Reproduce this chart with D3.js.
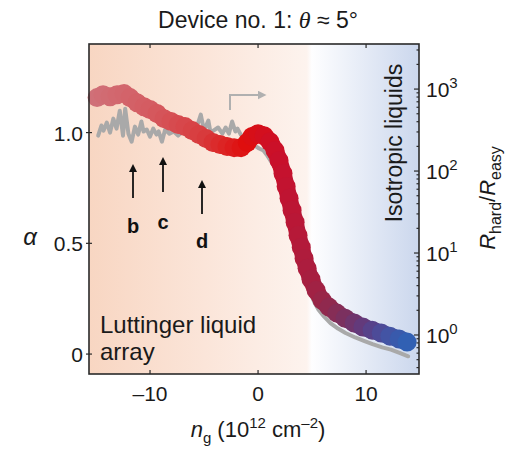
<!DOCTYPE html>
<html><head><meta charset="utf-8">
<script src="https://cdn.jsdelivr.net/npm/d3@7"></script>
<style>body{margin:0;background:#fff;} text{font-family:"Liberation Sans",Arial,sans-serif;}</style>
</head><body>
<svg id="c" width="507" height="449"></svg>
<script>
// ---- data ----
const xTicks = [-10, 0, 10];
const yTicks = [0, 0.5, 1.0];
const yTickLabels = ["0", "0.5", "1.0"];
const rTicks = [1, 10, 100, 1000];
const rTickExps = ["0", "1", "2", "3"];
// Red series: alpha vs n_g
const redN = [-14.9,-14.35,-13.7,-13.06,-12.4,-11.85,-11.2,-10.56,-10.0,-9.35,-8.7,-8.06,-7.4,-6.76,-6.1,-5.46,-4.8,-4.17,-3.52,-2.87,-2.22,-1.57,-1.0,-0.56,0,0.56,1.1,1.57,1.94,2.31,2.6,2.87,3.15,3.43,3.7,4.0,4.26,4.54,4.9,5.37,5.93,6.57,7.3,8.06,8.9,9.7,10.56,11.4,12.2,13.06,13.8];
const redA = [1.158,1.171,1.162,1.171,1.176,1.158,1.135,1.117,1.104,1.086,1.063,1.05,1.036,1.027,1.009,0.991,0.973,0.955,0.946,0.937,0.932,0.932,0.955,0.982,0.995,0.986,0.959,0.919,0.874,0.815,0.757,0.703,0.649,0.595,0.536,0.482,0.432,0.387,0.338,0.288,0.243,0.212,0.185,0.162,0.14,0.122,0.108,0.095,0.081,0.068,0.054];
// Gray series
const grayN = [-14.8,-14.5,-14.3,-14.0,-13.7,-13.4,-13.1,-12.8,-12.5,-12.3,-12.0,-11.7,-11.4,-11.1,-10.8,-10.6,-10.3,-10.0,-9.7,-9.4,-9.2,-8.9,-8.6,-8.2,-7.8,-7.4,-7.0,-6.7,-6.3,-5.9,-5.6,-5.3,-5.0,-4.6,-4.4,-3.7,-3.3,-3.0,-2.7,-2.4,-2.1,-1.9,-1.6,-1.3,-1.0,-0.6,-0.3,0.1,0.5,0.8,1.2,1.6,1.9,2.3,2.6,2.9,3.1,3.4,3.7,4.0,4.3,4.5,4.8,5.2,5.6,6.1,6.7,7.4,8.1,9.0,9.8,10.6,11.5,12.3,13.1,13.9];
const grayA = [0.986,1.032,1.009,1.045,1.0,1.063,1.018,1.099,0.986,1.108,0.995,0.959,1.027,0.991,1.05,1.005,1.014,0.982,1.018,0.991,1.005,0.959,1.014,0.995,1.005,0.986,1.005,0.991,1.014,1.0,1.036,1.081,1.009,1.054,1.0,1.023,0.995,1.023,0.995,1.05,1.005,1.018,0.991,0.982,0.959,0.946,0.941,0.928,0.919,0.9,0.87,0.84,0.8,0.74,0.68,0.62,0.58,0.52,0.46,0.41,0.36,0.32,0.28,0.235,0.2,0.17,0.14,0.115,0.095,0.075,0.06,0.045,0.03,0.02,0.005,-0.01];
const colorStopsN = [-15,-10,-5,-1,2,4,6,8,10,12,14];
const colorStopsC = ["#d07078","#d45c62","#d83c3e","#df0e0e","#c8102c","#b31a3a","#982648","#7c305e","#5e3c80","#4552a2","#2f62b5"];

const svg = d3.select("#c");
const L = 89, R = 419, T = 44, B = 374;
const x = d3.scaleLinear().domain([-15.65, 14.9]).range([L, R]);
const y = d3.scaleLinear().domain([-0.09, 1.4]).range([B, T]);
const yr = d3.scaleLog().domain([Math.pow(10,-0.476), Math.pow(10,3.55)]).range([B, T]);
const col = d3.scaleLinear().domain(colorStopsN).range(colorStopsC);

const defs = svg.append("defs");
const bg = defs.append("linearGradient").attr("id","bg").attr("x1","0%").attr("x2","100%");
[["0%","#f8d6c2"],["35%","#fbe5d9"],["66%","#fdf3ee"],["67.5%","#fefeff"],["100%","#cbd7ed"]].forEach(s=>bg.append("stop").attr("offset",s[0]).attr("stop-color",s[1]));
const lg = defs.append("linearGradient").attr("id","lg").attr("gradientUnits","userSpaceOnUse")
  .attr("x1",x(-15)).attr("x2",x(14)).attr("y1",0).attr("y2",0);
colorStopsN.forEach((n,i)=>lg.append("stop").attr("offset",(n+15)/29).attr("stop-color",colorStopsC[i]));

svg.append("rect").attr("x",L).attr("y",T).attr("width",R-L).attr("height",B-T).attr("fill","url(#bg)");

// gray series
const gpts = grayN.map((n,i)=>[x(n),y(grayA[i])]);
svg.append("path").attr("d",d3.line()(gpts)).attr("fill","none").attr("stroke","#a9a9a9").attr("stroke-width",4).attr("stroke-linejoin","round").attr("stroke-linecap","round");

// red series
const rpts = redN.map((n,i)=>[x(n),y(redA[i])]);
svg.append("path").attr("d",d3.line().curve(d3.curveCatmullRom)(rpts)).attr("fill","none").attr("stroke","url(#lg)").attr("stroke-width",17).attr("stroke-linejoin","round").attr("stroke-linecap","round");
svg.append("g").selectAll("circle").data(redN).join("circle")
  .attr("cx",d=>x(d)).attr("cy",(d,i)=>y(redA[i])).attr("r",9.5).attr("fill",d=>col(d));

// frame
svg.append("rect").attr("x",L).attr("y",T).attr("width",R-L).attr("height",B-T).attr("fill","none").attr("stroke","#2a2a2a").attr("stroke-width",1.6);

// ticks
const tk = svg.append("g").attr("stroke","#2a2a2a").attr("stroke-width",1.2);
xTicks.forEach(v=>{ tk.append("line").attr("x1",x(v)).attr("x2",x(v)).attr("y1",B).attr("y2",B-4);
  tk.append("line").attr("x1",x(v)).attr("x2",x(v)).attr("y1",T).attr("y2",T+4); });
yTicks.forEach(v=>{ tk.append("line").attr("x1",L-3).attr("x2",L+3).attr("y1",y(v)).attr("y2",y(v)); });
const minor = [];
for (let e=-1;e<=3;e++) for (let m=1;m<10;m++){ const v=m*Math.pow(10,e); if(v>=yr.domain()[0]&&v<=yr.domain()[1]) minor.push([v,m===1]); }
minor.forEach(([v,maj])=>tk.append("line").attr("x1",R).attr("x2",R-(maj?5:2.5)).attr("y1",yr(v)).attr("y2",yr(v)));

// tick labels
const fs = 21;
svg.append("g").selectAll("text").data(xTicks).join("text")
  .attr("x",d=>x(d)).attr("y",B+27).attr("text-anchor","middle").attr("font-size",fs).attr("fill","#1a1a1a")
  .text(d=>d<0?"\u2013"+Math.abs(d):d);
svg.append("g").selectAll("text").data(yTicks).join("text")
  .attr("x",L-6).attr("y",d=>y(d)+8).attr("text-anchor","end").attr("font-size",fs).attr("fill","#1a1a1a")
  .text((d,i)=>yTickLabels[i]);
const rl = svg.append("g").selectAll("text").data(rTicks).join("text")
  .attr("x",R+7).attr("y",d=>yr(d)+8).attr("font-size",fs).attr("fill","#1a1a1a");
rl.append("tspan").text("10");
rl.append("tspan").attr("dy",-9).attr("font-size",15).text((d,i)=>rTickExps[i]);

// title
const title = svg.append("text").attr("x",258).attr("y",28).attr("text-anchor","middle").attr("font-size",23).attr("fill","#1a1a1a");
title.append("tspan").text("Device no. 1: ");
title.append("tspan").attr("font-style","italic").attr("font-family","Liberation Serif, serif").attr("font-size",24).text("\u03b8");
title.append("tspan").text(" \u2248 5\u00b0");

// axis labels
svg.append("text").attr("x",30).attr("y",245).attr("text-anchor","middle").attr("font-size",24).attr("font-style","italic").attr("font-family","Liberation Serif, serif").attr("fill","#1a1a1a").text("\u03b1");
const xl = svg.append("text").attr("x",258).attr("y",437).attr("text-anchor","middle").attr("font-size",22).attr("fill","#1a1a1a");
xl.append("tspan").attr("font-style","italic").text("n");
xl.append("tspan").attr("dy",6).attr("font-size",15).text("g");
xl.append("tspan").attr("dy",-6).text(" (10");
xl.append("tspan").attr("dy",-9).attr("font-size",15).text("12");
xl.append("tspan").attr("dy",9).text(" cm");
xl.append("tspan").attr("dy",-9).attr("font-size",15).text("\u20132");
xl.append("tspan").attr("dy",9).text(")");
const ry = svg.append("text").attr("transform","translate(495,198) rotate(-90)").attr("text-anchor","middle").attr("font-size",22).attr("fill","#1a1a1a");
ry.append("tspan").attr("font-style","italic").text("R");
ry.append("tspan").attr("dy",6).attr("font-size",16).text("hard");
ry.append("tspan").attr("dy",-6).text("/");
ry.append("tspan").attr("font-style","italic").text("R");
ry.append("tspan").attr("dy",6).attr("font-size",16).text("easy");

// region labels
svg.append("text").attr("transform","translate(402,143) rotate(-90)").attr("text-anchor","middle").attr("font-size",23).attr("fill","#1a1a1a").text("Isotropic liquids");
svg.append("text").attr("x",100).attr("y",333).attr("font-size",24).attr("fill","#1a1a1a").text("Luttinger liquid");
svg.append("text").attr("x",100).attr("y",360).attr("font-size",24).attr("fill","#1a1a1a").text("array");

// annotation arrows
defs.append("marker").attr("id","ah").attr("viewBox","0 0 10 10").attr("refX",5).attr("refY",5).attr("markerWidth",4.5).attr("markerHeight",4.5).attr("orient","auto")
  .append("path").attr("d","M0,0 L10,5 L0,10 z").attr("fill","#111");
defs.append("marker").attr("id","ag").attr("viewBox","0 0 10 10").attr("refX",5).attr("refY",5).attr("markerWidth",4.5).attr("markerHeight",4.5).attr("orient","auto")
  .append("path").attr("d","M0,0 L10,5 L0,10 z").attr("fill","#b0b0b0");
const ann = [["b",133,198,164,233],["c",163,192,157,229],["d",202,214,180,248]];
ann.forEach(a=>{
  svg.append("line").attr("x1",a[1]).attr("x2",a[1]).attr("y1",a[2]).attr("y2",a[3]+4).attr("stroke","#111").attr("stroke-width",1.8).attr("marker-end","url(#ah)");
  svg.append("text").attr("x",a[1]).attr("y",a[4]).attr("text-anchor","middle").attr("font-size",20).attr("font-weight","bold").attr("fill","#111").text(a[0]);
});
svg.append("path").attr("d","M230,110 L230,95 L262,95").attr("fill","none").attr("stroke","#b0b0b0").attr("stroke-width",2).attr("marker-end","url(#ag)");
</script>
</body></html>
